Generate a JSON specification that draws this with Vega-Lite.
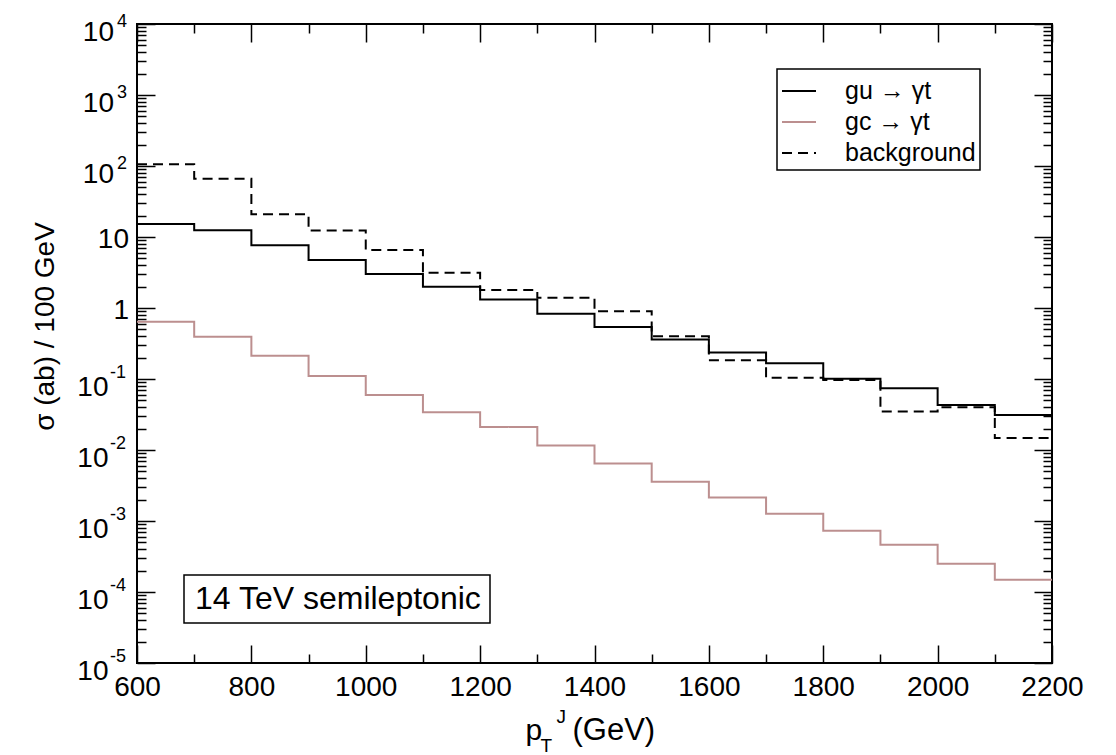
{
  "$schema": "https://vega.github.io/schema/vega-lite/v6.json",
  "width": 915,
  "height": 639,
  "autosize": {"type": "none"},
  "padding": {"left": 137, "top": 24, "right": 64, "bottom": 92},
  "background": "white",
  "config": {
    "font": "Liberation Sans",
    "view": {"stroke": "black", "strokeWidth": 2},
    "axis": {"grid": false, "domain": false, "tickColor": "black", "tickWidth": 1.5, "labelFont": "Liberation Sans", "titleFont": "Liberation Sans", "labelColor": "black", "titleColor": "black"},
    "legend": {"strokeWidth": 1.5, "labelFont": "Liberation Sans", "labelColor": "black"},
    "text": {"font": "Liberation Sans", "color": "black"}
  },
  "datasets": {
    "hist": [
      {"series": "gu → γt", "lo": 600, "hi": 700, "v": 15.2},
      {"series": "gu → γt", "lo": 700, "hi": 800, "v": 12.4},
      {"series": "gu → γt", "lo": 800, "hi": 900, "v": 7.64},
      {"series": "gu → γt", "lo": 900, "hi": 1000, "v": 4.74},
      {"series": "gu → γt", "lo": 1000, "hi": 1100, "v": 3.01},
      {"series": "gu → γt", "lo": 1100, "hi": 1200, "v": 2.0},
      {"series": "gu → γt", "lo": 1200, "hi": 1300, "v": 1.32},
      {"series": "gu → γt", "lo": 1300, "hi": 1400, "v": 0.83},
      {"series": "gu → γt", "lo": 1400, "hi": 1500, "v": 0.54},
      {"series": "gu → γt", "lo": 1500, "hi": 1600, "v": 0.36},
      {"series": "gu → γt", "lo": 1600, "hi": 1700, "v": 0.237},
      {"series": "gu → γt", "lo": 1700, "hi": 1800, "v": 0.166},
      {"series": "gu → γt", "lo": 1800, "hi": 1900, "v": 0.101},
      {"series": "gu → γt", "lo": 1900, "hi": 2000, "v": 0.074},
      {"series": "gu → γt", "lo": 2000, "hi": 2100, "v": 0.043},
      {"series": "gu → γt", "lo": 2100, "hi": 2200, "v": 0.031},
      {"series": "gc → γt", "lo": 600, "hi": 700, "v": 0.641},
      {"series": "gc → γt", "lo": 700, "hi": 800, "v": 0.394},
      {"series": "gc → γt", "lo": 800, "hi": 900, "v": 0.213},
      {"series": "gc → γt", "lo": 900, "hi": 1000, "v": 0.11},
      {"series": "gc → γt", "lo": 1000, "hi": 1100, "v": 0.0596},
      {"series": "gc → γt", "lo": 1100, "hi": 1200, "v": 0.034},
      {"series": "gc → γt", "lo": 1200, "hi": 1300, "v": 0.0211},
      {"series": "gc → γt", "lo": 1300, "hi": 1400, "v": 0.01156},
      {"series": "gc → γt", "lo": 1400, "hi": 1500, "v": 0.00646},
      {"series": "gc → γt", "lo": 1500, "hi": 1600, "v": 0.00357},
      {"series": "gc → γt", "lo": 1600, "hi": 1700, "v": 0.00214},
      {"series": "gc → γt", "lo": 1700, "hi": 1800, "v": 0.00126},
      {"series": "gc → γt", "lo": 1800, "hi": 1900, "v": 0.00073},
      {"series": "gc → γt", "lo": 1900, "hi": 2000, "v": 0.000463},
      {"series": "gc → γt", "lo": 2000, "hi": 2100, "v": 0.00025},
      {"series": "gc → γt", "lo": 2100, "hi": 2200, "v": 0.000149},
      {"series": "background", "lo": 600, "hi": 700, "v": 105.7},
      {"series": "background", "lo": 700, "hi": 800, "v": 66.2},
      {"series": "background", "lo": 800, "hi": 900, "v": 20.9},
      {"series": "background", "lo": 900, "hi": 1000, "v": 12.3},
      {"series": "background", "lo": 1000, "hi": 1100, "v": 6.56},
      {"series": "background", "lo": 1100, "hi": 1200, "v": 3.14},
      {"series": "background", "lo": 1200, "hi": 1300, "v": 1.79},
      {"series": "background", "lo": 1300, "hi": 1400, "v": 1.39},
      {"series": "background", "lo": 1400, "hi": 1500, "v": 0.9},
      {"series": "background", "lo": 1500, "hi": 1600, "v": 0.4},
      {"series": "background", "lo": 1600, "hi": 1700, "v": 0.183},
      {"series": "background", "lo": 1700, "hi": 1800, "v": 0.1045},
      {"series": "background", "lo": 1800, "hi": 1900, "v": 0.097},
      {"series": "background", "lo": 1900, "hi": 2000, "v": 0.0348},
      {"series": "background", "lo": 2000, "hi": 2100, "v": 0.04},
      {"series": "background", "lo": 2100, "hi": 2200, "v": 0.0147}
    ],
    "ylab": [
      {"v": 10000, "base": "10", "exp": "4", "kind": "pos"},
      {"v": 1000, "base": "10", "exp": "3", "kind": "pos"},
      {"v": 100, "base": "10", "exp": "2", "kind": "pos"},
      {"v": 10, "base": "10", "exp": "", "kind": "plain"},
      {"v": 1, "base": "1", "exp": "", "kind": "plain"},
      {"v": 0.1, "base": "10", "exp": "-1", "kind": "neg"},
      {"v": 0.01, "base": "10", "exp": "-2", "kind": "neg"},
      {"v": 0.001, "base": "10", "exp": "-3", "kind": "neg"},
      {"v": 0.0001, "base": "10", "exp": "-4", "kind": "neg"},
      {"v": 0.00001, "base": "10", "exp": "-5", "kind": "neg"}
    ],
    "xtitle": [{"p": "p", "sub": "T", "sup": "J", "unit": "(GeV)"}],
    "note": [{"note": "14 TeV semileptonic"}]
  },
  "layer": [
    {
      "data": {"name": "hist"},
      "transform": [{"fold": ["lo", "hi"], "as": ["edge", "x"]}],
      "mark": {"type": "line", "strokeWidth": 2, "clip": true},
      "encoding": {
        "x": {
          "field": "x", "type": "quantitative",
          "scale": {"domain": [600, 2200], "nice": false, "zero": false},
          "axis": {"orient": "bottom", "values": [600, 800, 1000, 1200, 1400, 1600, 1800, 2000, 2200], "format": "d", "tickSize": -18, "labelFontSize": 28, "labelPadding": 28, "labelFlush": false, "labelOverlap": false, "title": null}
        },
        "y": {
          "field": "v", "type": "quantitative",
          "scale": {"type": "log", "domain": [0.00001, 10000], "nice": false},
          "axis": {"orient": "left", "values": [0.00001, 0.0001, 0.001, 0.01, 0.1, 1, 10, 100, 1000, 10000], "tickSize": -18, "labels": false, "title": "σ (ab) / 100 GeV", "titleFontSize": 28, "titleFontWeight": "normal", "titleX": -92, "titleY": 302, "titleAngle": -90, "titleAlign": "center", "titleBaseline": "middle"}
        },
        "color": {
          "field": "series", "type": "nominal",
          "scale": {"domain": ["gu → γt", "gc → γt", "background"], "range": ["#000000", "#bc8f8f", "#000000"]},
          "legend": {"orient": "none", "legendX": 640, "legendY": 45, "title": null, "symbolType": "stroke", "symbolSize": 1156, "symbolStrokeWidth": 2, "labelFontSize": 25, "labelOffset": 28, "padding": 4, "rowPadding": -1.5, "strokeColor": "black", "fillColor": "white"}
        },
        "strokeDash": {
          "field": "series", "type": "nominal",
          "scale": {"domain": ["gu → γt", "gc → γt", "background"], "range": [[1, 0], [1, 0], [10, 6]]},
          "legend": {"orient": "none", "legendX": 640, "legendY": 45, "title": null, "symbolType": "stroke", "symbolSize": 1156, "symbolStrokeWidth": 2, "labelFontSize": 25, "labelOffset": 28, "padding": 4, "rowPadding": -1.5, "strokeColor": "black", "fillColor": "white"}
        },
        "order": [{"field": "x", "type": "quantitative"}, {"field": "edge", "type": "ordinal"}]
      }
    },
    {
      "data": {"name": "ylab"},
      "transform": [{"filter": "datum.kind === 'pos'"}],
      "mark": {"type": "text", "align": "right", "baseline": "alphabetic", "dx": -23, "dy": 17, "fontSize": 28},
      "encoding": {
        "x": {"datum": 600, "type": "quantitative", "axis": {"orient": "bottom", "values": [700, 900, 1100, 1300, 1500, 1700, 1900, 2100], "tickSize": -9, "labels": false, "title": null}},
        "y": {"field": "v", "type": "quantitative", "axis": {"orient": "left", "values": [0.00002, 0.00003, 0.00004, 0.00005, 0.00006, 0.00007, 0.00008, 0.00009, 0.0002, 0.0003, 0.0004, 0.0005, 0.0006, 0.0007, 0.0008, 0.0009, 0.002, 0.003, 0.004, 0.005, 0.006, 0.007, 0.008, 0.009, 0.02, 0.03, 0.04, 0.05, 0.06, 0.07, 0.08, 0.09, 0.2, 0.3, 0.4, 0.5, 0.6, 0.7, 0.8, 0.9, 2, 3, 4, 5, 6, 7, 8, 9, 20, 30, 40, 50, 60, 70, 80, 90, 200, 300, 400, 500, 600, 700, 800, 900, 2000, 3000, 4000, 5000, 6000, 7000, 8000, 9000], "tickSize": -9, "labels": false, "title": null}},
        "text": {"field": "base"}
      }
    },
    {
      "data": {"name": "ylab"},
      "transform": [{"filter": "datum.kind === 'pos'"}],
      "mark": {"type": "text", "align": "left", "baseline": "alphabetic", "dx": -20, "dy": 3, "fontSize": 18},
      "encoding": {
        "x": {"datum": 600, "type": "quantitative", "axis": {"orient": "top", "values": [600, 800, 1000, 1200, 1400, 1600, 1800, 2000, 2200], "tickSize": -18, "labels": false, "title": null}},
        "y": {"field": "v", "type": "quantitative", "axis": {"orient": "right", "values": [0.00001, 0.0001, 0.001, 0.01, 0.1, 1, 10, 100, 1000, 10000], "tickSize": -18, "labels": false, "title": null}},
        "text": {"field": "exp"}
      }
    },
    {
      "data": {"name": "ylab"},
      "transform": [{"filter": "datum.kind === 'neg'"}],
      "mark": {"type": "text", "align": "right", "baseline": "alphabetic", "dx": -28.5, "dy": 17, "fontSize": 28},
      "encoding": {
        "x": {"datum": 600, "type": "quantitative", "axis": {"orient": "top", "values": [700, 900, 1100, 1300, 1500, 1700, 1900, 2100], "tickSize": -9, "labels": false, "title": null}},
        "y": {"field": "v", "type": "quantitative", "axis": {"orient": "right", "values": [0.00002, 0.00003, 0.00004, 0.00005, 0.00006, 0.00007, 0.00008, 0.00009, 0.0002, 0.0003, 0.0004, 0.0005, 0.0006, 0.0007, 0.0008, 0.0009, 0.002, 0.003, 0.004, 0.005, 0.006, 0.007, 0.008, 0.009, 0.02, 0.03, 0.04, 0.05, 0.06, 0.07, 0.08, 0.09, 0.2, 0.3, 0.4, 0.5, 0.6, 0.7, 0.8, 0.9, 2, 3, 4, 5, 6, 7, 8, 9, 20, 30, 40, 50, 60, 70, 80, 90, 200, 300, 400, 500, 600, 700, 800, 900, 2000, 3000, 4000, 5000, 6000, 7000, 8000, 9000], "tickSize": -9, "labels": false, "title": null}},
        "text": {"field": "base"}
      }
    },
    {
      "data": {"name": "ylab"},
      "transform": [{"filter": "datum.kind === 'neg'"}],
      "mark": {"type": "text", "align": "left", "baseline": "alphabetic", "dx": -27, "dy": -1, "fontSize": 18},
      "encoding": {
        "x": {"datum": 600, "type": "quantitative", "axis": null},
        "y": {"field": "v", "type": "quantitative", "axis": null},
        "text": {"field": "exp"}
      }
    },
    {
      "data": {"name": "ylab"},
      "transform": [{"filter": "datum.kind === 'plain'"}],
      "mark": {"type": "text", "align": "right", "baseline": "alphabetic", "dx": -8, "dy": 11, "fontSize": 28},
      "encoding": {
        "x": {"datum": 600, "type": "quantitative", "axis": null},
        "y": {"field": "v", "type": "quantitative", "axis": null},
        "text": {"field": "base"}
      }
    },
    {
      "data": {"name": "xtitle"},
      "mark": {"type": "text", "align": "left", "baseline": "alphabetic", "dx": -69, "dy": 77, "fontSize": 30},
      "encoding": {
        "x": {"datum": 1400, "type": "quantitative", "axis": null},
        "y": {"datum": 0.00001, "type": "quantitative", "axis": null},
        "text": {"field": "p"}
      }
    },
    {
      "data": {"name": "xtitle"},
      "mark": {"type": "text", "align": "left", "baseline": "alphabetic", "dx": -54, "dy": 89, "fontSize": 19},
      "encoding": {
        "x": {"datum": 1400, "type": "quantitative", "axis": null},
        "y": {"datum": 0.00001, "type": "quantitative", "axis": null},
        "text": {"field": "sub"}
      }
    },
    {
      "data": {"name": "xtitle"},
      "mark": {"type": "text", "align": "left", "baseline": "alphabetic", "dx": -38, "dy": 60, "fontSize": 19},
      "encoding": {
        "x": {"datum": 1400, "type": "quantitative", "axis": null},
        "y": {"datum": 0.00001, "type": "quantitative", "axis": null},
        "text": {"field": "sup"}
      }
    },
    {
      "data": {"name": "xtitle"},
      "mark": {"type": "text", "align": "left", "baseline": "alphabetic", "dx": -22, "dy": 77, "fontSize": 31},
      "encoding": {
        "x": {"datum": 1400, "type": "quantitative", "axis": null},
        "y": {"datum": 0.00001, "type": "quantitative", "axis": null},
        "text": {"field": "unit"}
      }
    },
    {
      "data": {"name": "note"},
      "mark": {"type": "point", "opacity": 0},
      "encoding": {
        "shape": {"field": "note", "type": "nominal", "legend": {"orient": "none", "legendX": 47, "legendY": 551, "title": null, "symbolSize": 0, "symbolOpacity": 0, "labelFontSize": 32, "labelOffset": -29, "padding": 8, "strokeColor": "black", "fillColor": "white", "labelLimit": 400}}
      }
    }
  ],
  "resolve": {"axis": {"x": "independent", "y": "independent"}}
}
